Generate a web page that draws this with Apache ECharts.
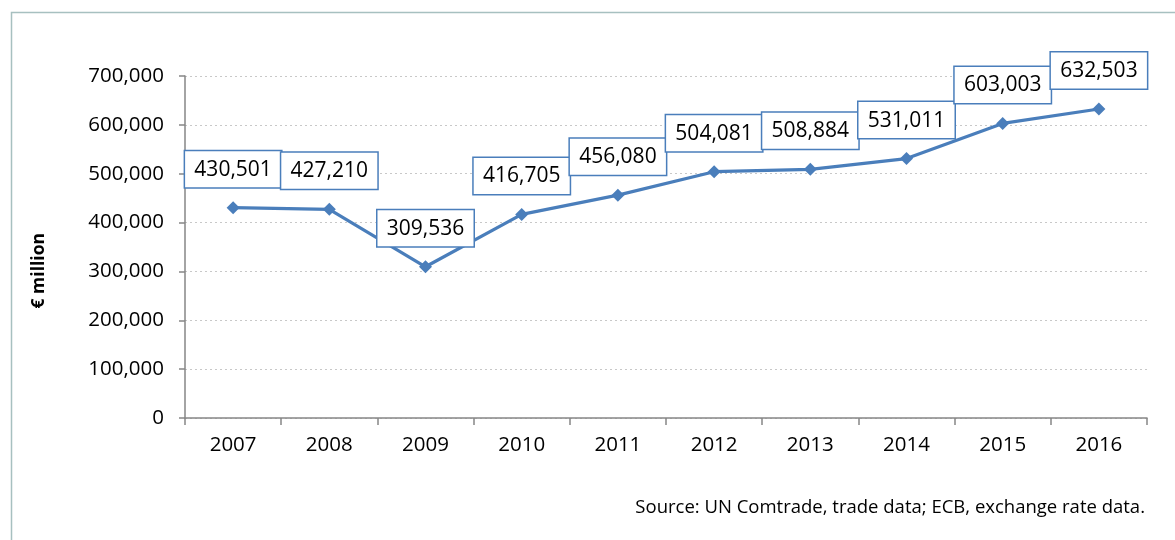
<!DOCTYPE html>
<html><head><meta charset="utf-8">
<script src="https://cdn.jsdelivr.net/npm/echarts@6/dist/echarts.min.js"></script>
<style>html,body{margin:0;padding:0;background:#fff}#c{width:1175px;height:540px}</style>
</head><body><div id="c"></div>
<script>
const years = ['2007','2008','2009','2010','2011','2012','2013','2014','2015','2016'];
const values = [430501, 427210, 309536, 416705, 456080, 504081, 508884, 531011, 603003, 632503];
const yTicks = [0, 100000, 200000, 300000, 400000, 500000, 600000, 700000];
const yTitle = '€ million';
const sourceText = 'Source: UN Comtrade, trade data; ECB, exchange rate data.';

const fmt = v => v.toLocaleString('en-US');
const font = '"Open Sans", "Noto Sans", sans-serif';
const chart = echarts.init(document.getElementById('c'));
chart.setOption({
  animation: false,
  backgroundColor: '#fff',
  grid: {left: 185, right: 28, top: 76, bottom: 122},
  xAxis: {
    type: 'category', data: years, boundaryGap: true,
    axisLine: {lineStyle: {color: '#868686', width: 1.5}},
    axisTick: {show: true, length: 7, lineStyle: {color: '#868686', width: 1.5}},
    axisLabel: {color: '#000', fontSize: 20.5, fontFamily: font, margin: 17}
  },
  yAxis: {
    type: 'value', min: yTicks[0], max: yTicks[yTicks.length - 1], interval: 100000,
    axisLine: {show: true, lineStyle: {color: '#868686', width: 1.5}},
    axisTick: {show: true, length: 6, lineStyle: {color: '#868686', width: 1.5}},
    axisLabel: {color: '#000', fontSize: 20.5, fontFamily: font, margin: 21, formatter: v => fmt(v)},
    splitLine: {lineStyle: {color: '#c8c8c8', type: [2, 3], width: 1.2}}
  },
  series: [{
    type: 'line', data: values,
    lineStyle: {color: '#4a7ebb', width: 3.2},
    itemStyle: {color: '#4a7ebb'},
    symbol: 'diamond', symbolSize: 13,
    label: {
      show: true, position: 'top', distance: 14,
      formatter: p => fmt(p.value),
      color: '#000', fontSize: 21, fontFamily: font,
      backgroundColor: '#fff', borderColor: '#4a7ebb', borderWidth: 1.5,
      padding: [8, 9, 7, 9], width: 78, align: 'center'
    }
  }],
  graphic: [
    {type: 'rect', left: 9, top: 10, shape: {width: 1180, height: 540},
     style: {fill: 'none', stroke: '#a7c0c0', lineWidth: 1.5}, z: -1},
    {type: 'text', left: 30, top: 233, rotation: Math.PI / 2,
     style: {text: yTitle, font: 'bold 17.5px ' + font, fill: '#000'}},
    {type: 'text', right: 30, top: 498,
     style: {text: sourceText, font: '18.5px ' + font, fill: '#000'}}
  ]
});
</script></body></html>
